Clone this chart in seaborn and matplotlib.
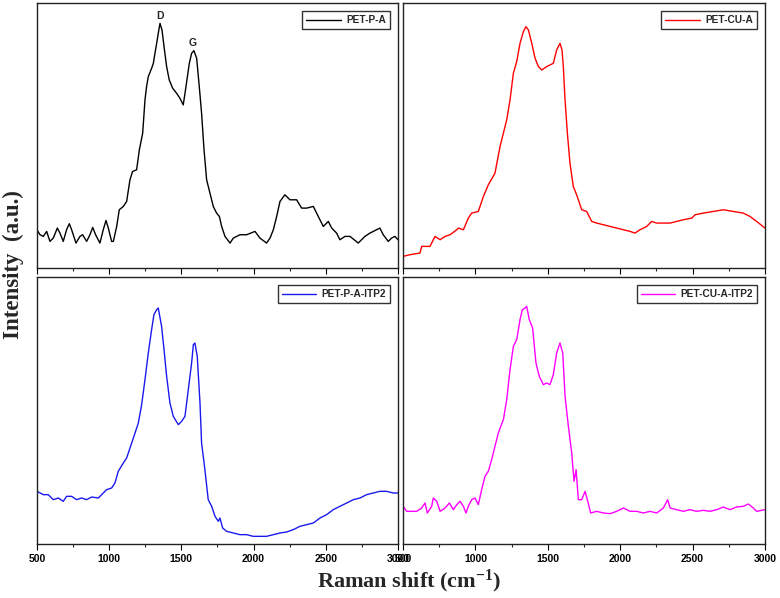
import numpy as np
import pandas as pd
import matplotlib
matplotlib.use('Agg')
import matplotlib.pyplot as plt
import seaborn as sns

# PET-P-A (black)
ppa_x = [500, 521, 544, 567, 590, 613, 641, 659, 682, 705, 724, 740, 770, 798, 816, 844, 867, 886, 906, 936,
         959, 978, 994, 1017, 1029, 1052, 1070, 1098, 1121, 1144, 1162, 1190, 1209, 1232, 1248, 1259, 1271, 1294,
         1306, 1317, 1329, 1340, 1352, 1366, 1380, 1398, 1416, 1440, 1467, 1490, 1513, 1532, 1555, 1571, 1587,
         1606, 1624, 1640, 1657, 1675, 1698, 1721, 1744, 1763, 1779, 1802, 1837, 1860, 1906, 1952, 2010, 2044,
         2090, 2114, 2137, 2160, 2183, 2217, 2252, 2298, 2333, 2368, 2414, 2448, 2483, 2518, 2541, 2575, 2598,
         2633, 2668, 2725, 2771, 2806, 2852, 2875, 2898, 2933, 2956, 2979, 3000]
ppa_y = [115, 100, 95, 110, 80, 90, 120, 105, 80, 115, 133, 115, 75, 95, 100, 80, 100, 122, 100, 75,
         115, 143, 120, 80, 80, 125, 175, 185, 200, 265, 290, 295, 355, 405, 505, 545, 575, 600,
         615, 645, 675, 705, 735, 715, 665, 605, 565, 540, 525, 510, 490, 545, 615, 645, 653,
         630, 545, 465, 355, 265, 225, 185, 165, 155, 125, 95, 75, 90, 100, 100, 110, 90,
         75, 90, 115, 155, 200, 220, 205, 205, 180, 180, 185, 155, 125, 140, 120, 105, 85,
         95, 95, 75, 95, 105, 115, 120, 100, 80, 90, 95, 85]

# PET-CU-A (red)
pca_x = [500, 548, 617, 629, 686, 721, 756, 790, 825, 871, 882, 917, 951, 974, 1020, 1055, 1089, 1135, 1170,
         1216, 1239, 1262, 1285, 1308, 1331, 1349, 1366, 1389, 1412, 1435, 1458, 1492, 1515, 1538, 1561, 1584,
         1598, 1607, 1619, 1635, 1653, 1676, 1699, 1734, 1768, 1803, 1837, 1884, 1930, 1976, 2022, 2068, 2102,
         2137, 2183, 2217, 2252, 2298, 2344, 2390, 2436, 2494, 2517, 2574, 2643, 2712, 2781, 2850, 2896, 2942, 3000]
pca_y = [35, 40, 45, 65, 65, 95, 85, 95, 100, 115, 120, 115, 150, 165, 170, 215, 250, 285, 365,
         445, 505, 585, 620, 675, 710, 725, 715, 675, 630, 605, 595, 605, 610, 615, 655, 675,
         655, 605, 505, 405, 315, 245, 220, 175, 170, 140, 135, 130, 125, 120, 115, 110, 105,
         115, 125, 140, 135, 135, 135, 140, 145, 150, 160, 165, 170, 175, 170, 165, 155, 140, 120]

# PET-P-A-ITP2 (blue)
ppi_x = [500, 544, 578, 613, 648, 682, 705, 740, 775, 809, 844, 879, 925, 948, 982, 1017, 1040, 1063, 1098,
         1121, 1156, 1179, 1202, 1225, 1248, 1271, 1294, 1310, 1329, 1340, 1363, 1380, 1398, 1421, 1444, 1479,
         1502, 1525, 1548, 1571, 1583, 1594, 1610, 1629, 1640, 1663, 1686, 1710, 1733, 1756, 1767, 1786, 1813,
         1860, 1906, 1952, 1998, 2044, 2090, 2137, 2183, 2229, 2275, 2321, 2367, 2414, 2460, 2506, 2552, 2598,
         2645, 2691, 2737, 2783, 2829, 2875, 2921, 2968, 3000]
ppi_y = [158, 148, 148, 133, 138, 128, 143, 143, 133, 138, 133, 141, 138, 148, 163, 168, 183, 218, 243,
         258, 303, 333, 363, 418, 493, 573, 643, 688, 703, 708, 653, 583, 503, 423, 383, 358,
         368, 383, 463, 543, 598, 603, 563, 423, 303, 223, 133, 113, 83, 68, 78, 48, 38,
         33, 28, 28, 23, 23, 23, 28, 33, 36, 43, 53, 58, 63, 78, 88, 103, 113,
         123, 133, 138, 148, 153, 158, 158, 153, 153]

# PET-CU-A-ITP2 (magenta)
pci_x = [500, 525, 594, 629, 652, 668, 698, 709, 733, 756, 790, 820, 848, 871, 894, 917, 935, 951, 974, 997,
         1020, 1043, 1066, 1089, 1112, 1135, 1158, 1193, 1216, 1239, 1262, 1285, 1308, 1324, 1343, 1354, 1372,
         1395, 1418, 1441, 1469, 1492, 1515, 1538, 1561, 1584, 1603, 1619, 1642, 1665, 1681, 1695, 1711, 1734,
         1757, 1773, 1796, 1837, 1884, 1930, 1976, 2022, 2068, 2114, 2160, 2206, 2252, 2298, 2328, 2344, 2390,
         2436, 2482, 2528, 2574, 2620, 2666, 2712, 2758, 2804, 2850, 2885, 2919, 2942, 3000]
pci_y = [113, 98, 98, 108, 123, 93, 113, 138, 128, 98, 108, 123, 103, 118, 128, 113, 93, 113, 133, 138,
         118, 163, 203, 218, 253, 293, 333, 373, 433, 523, 593, 613, 673, 703, 708, 713, 673,
         648, 543, 503, 478, 483, 478, 508, 573, 603, 573, 443, 353, 273, 188, 223, 133, 133,
         158, 133, 93, 98, 93, 91, 98, 108, 98, 98, 93, 98, 93, 108, 133, 108, 103,
         98, 103, 98, 101, 98, 103, 111, 103, 111, 113, 120, 108, 98, 103]

xticks_major = [500, 1000, 1500, 2000, 2500, 3000]

panels = [
    ('PET-P-A', ppa_x, ppa_y, 'black', [0.0474, 0.5518, 0.4628, 0.4431], 796),
    ('PET-CU-A', pca_x, pca_y, '#ff0000', [0.5167, 0.5518, 0.4641, 0.4431], 796),
    ('PET-P-A-ITP2', ppi_x, ppi_y, '#1a1aee', [0.0474, 0.0903, 0.4628, 0.4465], 801),
    ('PET-CU-A-ITP2', pci_x, pci_y, '#ff00ff', [0.5167, 0.0903, 0.4641, 0.4465], 801),
]

sns.set_style('white')
plt.rcParams['font.family'] = ['Liberation Sans', 'DejaVu Sans']
plt.rcParams['mathtext.fontset'] = 'custom'
plt.rcParams['mathtext.rm'] = 'Liberation Serif:bold'
plt.rcParams['mathtext.it'] = 'Liberation Serif:bold'
plt.rcParams['mathtext.bf'] = 'Liberation Serif:bold'
plt.rcParams['mathtext.default'] = 'rm'

fig = plt.figure(figsize=(7.8, 5.98), dpi=100)
for i, (name, xs, ys, col, pos, ytop) in enumerate(panels):
    ax = fig.add_axes(pos)
    df = pd.DataFrame({'shift': xs, 'intensity': ys})
    sns.lineplot(data=df, x='shift', y='intensity', ax=ax, color=col, linewidth=1.0, label=name)
    ax.set_xlim(500, 3000)
    ax.set_ylim(0, ytop)
    ax.set_xticks(xticks_major)
    ax.set_xticks(np.arange(500, 3001, 250), minor=True)
    ax.set_yticks([])
    ax.set_xlabel('')
    ax.set_ylabel('')
    ax.tick_params(axis='x', which='major', direction='out', length=4, width=0.8,
                   bottom=True, labelsize=7.5, pad=3, colors='black')
    ax.tick_params(axis='x', which='minor', direction='out', length=2.5, width=0.8, bottom=True)
    for lab in ax.get_xticklabels():
        lab.set_fontweight('bold')
    if i < 2:
        ax.tick_params(axis='x', which='both', labelbottom=False)
    for s in ax.spines.values():
        s.set_color('#222222')
        s.set_linewidth(1.0)
    leg = ax.legend(loc='upper right', frameon=True, fancybox=False,
                    handlelength=3.4, borderpad=0.4, borderaxespad=0.8, handletextpad=0.5,
                    prop={'weight': 'bold', 'size': 7.3})
    leg.get_frame().set_edgecolor('black')
    leg.get_frame().set_linewidth(1.0)
    if i == 0:
        ax.text(1352, 757, 'D', ha='center', va='center', fontsize=7.5, fontweight='bold')
        ax.text(1578, 676, 'G', ha='center', va='center', fontsize=7.5, fontweight='bold')

fig.text(0.525, 0.027, r'Raman shift (cm$^{-1}$)', ha='center', va='center',
         fontsize=16, fontweight='bold', family='Liberation Serif')
fig.text(0.017, 0.557, 'Intensity  (a.u.)', ha='center', va='center', rotation=90,
         fontsize=16.5, fontweight='bold', family='Liberation Serif')

fig.savefig('out.png', dpi=100)
